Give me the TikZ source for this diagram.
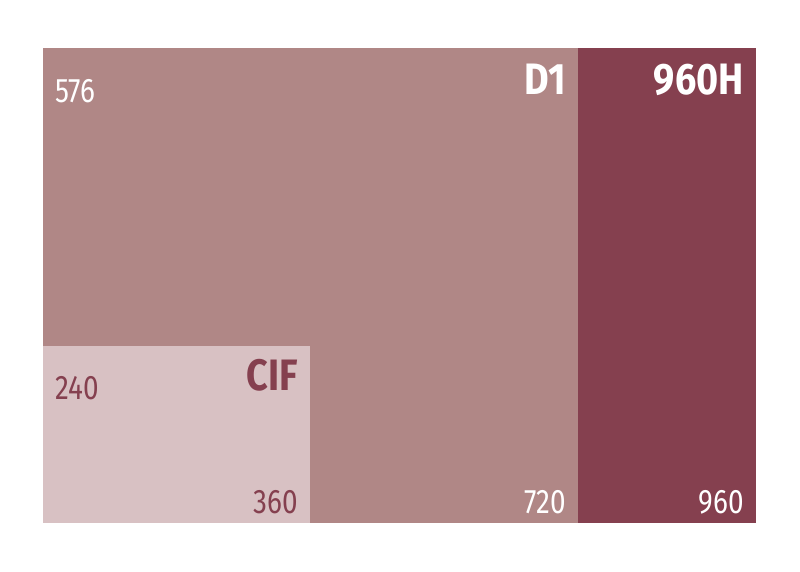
\documentclass[tikz,border=0pt]{standalone}
\usepackage{fontspec}
\setmainfont{Fira Sans}
\newfontfamily\narrowfont[FakeStretch=0.82]{Fira Sans}
\newfontfamily\boldnarrowfont[FakeStretch=0.86]{Fira Sans Bold}
\usetikzlibrary{positioning}
\definecolor{dfill}{HTML}{B08786}
\definecolor{hfill}{HTML}{85404F}
\definecolor{cfill}{HTML}{D8C1C3}

\begin{document}
\begin{tikzpicture}[x=1pt,y=-1pt]
            \tikzstyle{num} = [inner sep=0pt,font=\narrowfont\fontsize{34}{34}\selectfont]
            \tikzstyle{big} = [inner sep=0pt,font=\boldnarrowfont\fontsize{44}{44}\selectfont]
            
            \useasboundingbox [fill=white] (0, 0) rectangle (800, 572);
            
            \fill [dfill] (43, 48) rectangle (578, 523);
            \fill [hfill] (578, 48) rectangle (756, 523);
            \fill [cfill] (43, 346) rectangle (310, 523);
            
            \node[big, text=white, anchor=base east] (d1) at (566, 95) {D1};
            \node[big, text=white, anchor=base east] (h960) at (744, 95) {960H};
            \node[big, text=hfill, anchor=base east] (cif) at (298, 390) {CIF};
            
            \node[num, text=white, anchor=base west] (h576) at (55, 103) {576};
            \node[num, text=hfill, anchor=base west] (h240) at (55, 399) {240};
            \node[num, text=hfill, anchor=base east] (w360) at (298, 513) {360};
            \node[num, text=white, anchor=base east] (w720) at (566, 513) {720};
            \node[num, text=white, anchor=base east] (w960) at (744, 513) {960};
        \end{tikzpicture}
\end{document}
